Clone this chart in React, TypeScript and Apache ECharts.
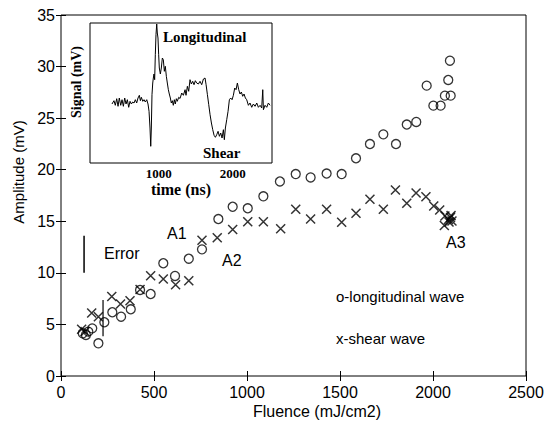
import React, { useEffect, useRef } from "react";
import * as echarts from "echarts";

// Main plot: longitudinal wave (o) amplitudes
const longFluence = [117, 134, 147, 168, 201, 233, 276, 323, 375, 425, 482, 550, 613, 687, 758, 846, 923, 1004, 1088, 1177, 1262, 1342, 1428, 1509, 1586, 1661, 1733, 1801, 1859, 1910, 1966, 2002, 2041, 2064, 2095, 2082, 2091];
const longAmp = [4.14, 3.98, 4.3, 4.62, 3.17, 5.21, 6.18, 5.75, 6.47, 8.34, 7.95, 10.93, 9.7, 11.37, 12.28, 15.22, 16.41, 16.26, 17.42, 18.86, 19.58, 19.25, 19.63, 19.58, 21.11, 22.49, 23.43, 22.49, 24.38, 24.63, 28.15, 26.21, 26.21, 27.18, 27.18, 28.7, 30.57];

// Main plot: shear wave (x) amplitudes
const shearFluence = [111, 129, 165, 201, 273, 320, 371, 425, 482, 550, 616, 687, 758, 840, 923, 1004, 1088, 1181, 1262, 1342, 1428, 1509, 1586, 1661, 1733, 1798, 1859, 1909, 1962, 2004, 2036, 2064, 2083, 2094, 2102, 2061, 2097, 2086];
const shearAmp = [4.53, 4.3, 6.11, 5.75, 7.71, 6.98, 7.3, 8.39, 9.72, 9.4, 8.85, 9.23, 13.16, 13.4, 14.2, 14.96, 14.96, 14.27, 16.16, 15.22, 16.16, 14.9, 15.77, 17.13, 16.16, 18.03, 16.74, 17.74, 17.38, 16.48, 16.09, 15.51, 15.17, 15.37, 15.03, 14.59, 15.55, 14.93];

// Error bars
const errorBarLegend = [[124, 10.0], [124, 13.6]];
const errorBarPoint = [[226, 3.85], [226, 7.37]];

// Inset: signal waveform
const signalTime = [367, 394, 412, 431, 449, 466, 485, 503, 521, 539, 557, 575, 593, 611, 629, 647, 665, 683, 701, 719, 737, 751, 764, 783, 800, 818, 837, 854, 868, 881, 891, 899, 908, 918, 926, 935, 944, 953, 962, 972, 980, 989, 998, 1007, 1021, 1034, 1048, 1061, 1075, 1088, 1102, 1115, 1129, 1142, 1156, 1169, 1183, 1196, 1210, 1223, 1237, 1250, 1269, 1287,
  1310, 1332, 1355, 1368, 1386, 1404, 1422, 1440, 1458, 1476, 1494, 1512, 1535, 1557, 1580, 1603, 1625, 1639, 1657, 1675, 1693, 1711, 1729, 1747, 1765, 1783, 1801, 1819, 1837, 1855, 1873, 1886, 1900, 1918, 1936, 1954, 1972, 1990, 2008, 2026, 2044, 2062, 2080, 2098, 2116, 2134, 2152, 2170, 2188, 2211, 2233, 2256, 2278, 2301, 2324, 2346, 2369, 2391, 2405, 2414, 2436, 2459, 2481, 2504];
const signalMv = [-0.1, 0.23, -0.23, 0.43, -0.33, 0.5, -0.23, 0.33, -0.33, 0.5, -0.1, 0.33, -0.43, 0.17, -0.1, 0.1, 0, 0.33, 0, 0.5, 0.77, 0.23, 0.57, 0.17, 0.33, 0.1, 0.33, -0.1, -0.83, -2.5, -4.33, -2.5, 0.83, 2, 2.5, 2.9, 2.33, 4.83, 6.83, 7.9, 7, 6.5, 4.83, 3.5, 2.9, 3.5, 4.5, 4.33, 3.17, 3.67, 2.67, 2, 1.33, 0.9, 0.5, 0, 0.23, -0.23, 0.33, -0.1, 0.43, 0.17, 0.57, 0.45,
  1, 0.77, 1.33, 0.77, 1.67, 1.17, 2.33, 1.9, 2.17, 1.83, 2.23, 2, 1.9, 2.17, 1.83, 2.4, 2.5, 1.83, 0.83, -0.17, -1.17, -2, -2.67, -3.23, -3.43, -3.17, -2.83, -3.33, -3, -3.5, -2.67, -3.67, -2.5, -1.67, -0.83, 0.33, 0.5, 0.33, 0.77, 1.5, 1.33, 2, 1.33, 0.9, 1.1, 0.67, 0.9, 0.5, 0.33, -0.23, 0, -0.43, -0.1, -0.33, 0, -0.43, -0.23, -0.5, 1.33, -0.67, -0.23, -0.43, 0, -0.23];

const insetTimeTicks = [1000, 2000];
const insetSignalTicks = [-4, -2, 0, 2, 4, 6];

const SANS = '"Liberation Sans", Arial, sans-serif';
const SERIF = '"Liberation Serif", "Times New Roman", serif';

const xSymbol = "path://M0,0L10,10M10,0L0,10";
const plain = (v: number) => String(v);

export default function App() {
  const ref = useRef<HTMLDivElement>(null);
  useEffect(() => {
    document.body.style.margin = "0";
    if (!ref.current) return;
    const chart = echarts.init(ref.current, null, { renderer: "svg" });
    const tick = { inside: true, length: 5, lineStyle: { color: "#000", width: 1 } };
    const option: any = {
      animation: false,
      backgroundColor: "#fff",
      grid: [
        { left: 61, top: 15, width: 465, height: 361, show: true, borderColor: "#000", borderWidth: 1, backgroundColor: "#fff" },
        { left: 90, top: 23, width: 182, height: 140, show: true, borderColor: "#000", borderWidth: 1, backgroundColor: "#fff", z: 1 },
      ],
      xAxis: [
        {
          gridIndex: 0, type: "value", min: 0, max: 2500, interval: 500,
          axisLine: { show: false }, axisTick: tick, splitLine: { show: false },
          axisLabel: { color: "#000", fontSize: 16, fontFamily: SANS, margin: 8, formatter: plain },
        },
        {
          gridIndex: 0, type: "value", position: "top", min: 0, max: 2500, interval: 500,
          axisLine: { show: false }, axisTick: tick, splitLine: { show: false }, axisLabel: { show: false },
        },
        {
          gridIndex: 1, type: "value", min: 70, max: 2530,
          axisLine: { show: false }, splitLine: { show: false },
          axisTick: { ...tick, length: 3, customValues: insetTimeTicks },
          axisLabel: { customValues: insetTimeTicks, color: "#000", fontSize: 13, fontWeight: "bold", fontFamily: SERIF, margin: 4, formatter: plain },
          name: "time (ns)", nameLocation: "middle", nameGap: 18,
          nameTextStyle: { color: "#000", fontSize: 16, fontWeight: "bold", fontFamily: SERIF },
        },
        {
          gridIndex: 1, type: "value", position: "top", min: 70, max: 2530,
          axisLine: { show: false }, splitLine: { show: false },
          axisTick: { ...tick, length: 3, customValues: insetTimeTicks }, axisLabel: { show: false },
        },
      ],
      yAxis: [
        {
          gridIndex: 0, type: "value", min: 0, max: 35, interval: 5,
          axisLine: { show: false }, axisTick: tick, splitLine: { show: false },
          axisLabel: { color: "#000", fontSize: 16, fontFamily: SANS, margin: 6, formatter: plain },
        },
        {
          gridIndex: 0, type: "value", position: "right", min: 0, max: 35, interval: 5,
          axisLine: { show: false }, axisTick: tick, splitLine: { show: false }, axisLabel: { show: false },
        },
        {
          gridIndex: 1, type: "value", min: -6, max: 8,
          axisLine: { show: false }, splitLine: { show: false },
          axisTick: { ...tick, length: 3, customValues: insetSignalTicks }, axisLabel: { show: false },
        },
        {
          gridIndex: 1, type: "value", position: "right", min: -6, max: 8,
          axisLine: { show: false }, splitLine: { show: false },
          axisTick: { ...tick, length: 3, customValues: insetSignalTicks }, axisLabel: { show: false },
        },
      ],
      series: [
        {
          type: "scatter", xAxisIndex: 0, yAxisIndex: 0,
          data: longFluence.map((f, i) => [f, longAmp[i]]),
          symbol: "circle", symbolSize: 9,
          itemStyle: { color: "rgba(0,0,0,0)", borderColor: "#000", borderWidth: 1.3 },
        },
        {
          type: "scatter", xAxisIndex: 0, yAxisIndex: 0,
          data: shearFluence.map((f, i) => [f, shearAmp[i]]),
          symbol: xSymbol, symbolSize: 9,
          itemStyle: { color: "rgba(0,0,0,0)", borderColor: "#000", borderWidth: 1.5 },
        },
        {
          type: "line", xAxisIndex: 0, yAxisIndex: 0, data: errorBarLegend, symbol: "none",
          lineStyle: { color: "#000", width: 1.5 },
        },
        {
          type: "line", xAxisIndex: 0, yAxisIndex: 0, data: errorBarPoint, symbol: "none",
          lineStyle: { color: "#000", width: 1.2 },
        },
        {
          type: "line", xAxisIndex: 2, yAxisIndex: 2, z: 5,
          data: signalTime.map((t, i) => [t, signalMv[i]]),
          symbol: "none", lineStyle: { color: "#000", width: 1 },
        },
      ],
      graphic: [
        { type: "text", x: 18, y: 172, rotation: Math.PI / 2, style: { text: "Amplitude (mV)", fill: "#000", font: `15px ${SANS}`, align: "center", verticalAlign: "middle" } },
        { type: "text", x: 317, y: 411, style: { text: "Fluence (mJ/cm2)", fill: "#000", font: `16px ${SANS}`, align: "center", verticalAlign: "middle" } },
        { type: "text", x: 104, y: 253, style: { text: "Error", fill: "#000", font: `16px ${SANS}`, align: "left", verticalAlign: "middle" } },
        { type: "text", x: 167, y: 233, style: { text: "A1", fill: "#000", font: `16px ${SANS}`, align: "left", verticalAlign: "middle" } },
        { type: "text", x: 222, y: 260, style: { text: "A2", fill: "#000", font: `16px ${SANS}`, align: "left", verticalAlign: "middle" } },
        { type: "text", x: 446, y: 242, style: { text: "A3", fill: "#000", font: `16px ${SANS}`, align: "left", verticalAlign: "middle" } },
        { type: "text", x: 336, y: 296, style: { text: "o-longitudinal wave", fill: "#000", font: `15px ${SANS}`, align: "left", verticalAlign: "middle" } },
        { type: "text", x: 336, y: 338, style: { text: "x-shear wave", fill: "#000", font: `15px ${SANS}`, align: "left", verticalAlign: "middle" } },
        { type: "text", x: 163, y: 37, z: 10, style: { text: "Longitudinal", fill: "#000", font: `bold 15px ${SERIF}`, align: "left", verticalAlign: "middle" } },
        { type: "text", x: 203, y: 153, z: 10, style: { text: "Shear", fill: "#000", font: `bold 15px ${SERIF}`, align: "left", verticalAlign: "middle" } },
        { type: "text", x: 76, y: 82, rotation: Math.PI / 2, z: 10, style: { text: "Signal (mV)", fill: "#000", font: `bold 14px ${SERIF}`, align: "center", verticalAlign: "middle" } },
      ],
    };
    chart.setOption(option);
    return () => chart.dispose();
  }, []);
  return <div ref={ref} style={{ width: 548, height: 425 }} />;
}
